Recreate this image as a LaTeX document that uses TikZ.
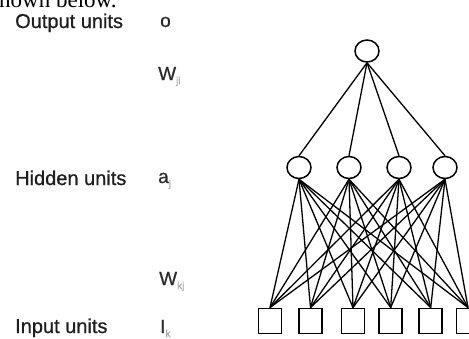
\documentclass[tikz,border=0pt]{standalone}
\usepackage{fontspec}
\setmainfont{Liberation Sans}
\newfontfamily\labelface[FakeBold=0.7]{Liberation Sans}
\newfontfamily\serifface{Liberation Serif}
\usetikzlibrary{shapes.geometric}
\definecolor{labelgray}{HTML}{1E1E1E}
\definecolor{symgray}{HTML}{2A2A2A}
\definecolor{subgray}{HTML}{A8A8A8}
\tikzset{
  unit/.style={ellipse, draw, line width=1.5pt, minimum width=24pt, minimum height=22pt, inner sep=0pt},
  inbox/.style={rectangle, draw, line width=1.5pt, minimum width=23pt, minimum height=25pt, inner sep=0pt},
  link/.style={line width=1.3pt},
  layertext/.style={anchor=base west, inner sep=0pt, font=\labelface\fontsize{20}{24}\selectfont, text=labelgray},
  sym/.style={anchor=base west, inner sep=0pt, font=\labelface\fontsize{19}{22}\selectfont, text=symgray},
}
\newcommand\lowsub[1]{{\color{subgray}\fontsize{10}{10}\selectfont\raisebox{-4pt}{#1}}}
\begin{document}
\begin{tikzpicture}[x=1pt, y=-1pt]
  \useasboundingbox (0,0) rectangle (469,338);
  \clip (0,0) rectangle (469,338);

  % running text above the figure
  \node[anchor=base west, inner sep=0pt, font=\serifface\fontsize{23}{23}\selectfont] (caption) at (-1,7) {hown below.};

  % layer names
  \node[layertext] (outname) at (15,28) {Output units};
  \node[layertext] (hidname) at (15,185) {Hidden units};
  \node[layertext] (inname)  at (15,333) {Input units};

  % symbols
  \node[sym] (osym) at (160,27) {o};
  \node[sym] (wji)  at (158,80) {W\lowsub{ji}};
  \node[sym] (asym) at (158,183) {a\lowsub{j}};
  \node[sym] (wkj)  at (159,285) {W\lowsub{kj}};
  \node[sym] (isym) at (160,333) {I\lowsub{k}};

  % output unit
  \node[unit] (out) at (367,51) {};

  % hidden units
  \node[unit] (h1) at (299,167.5) {};
  \node[unit] (h2) at (349,167.5) {};
  \node[unit] (h3) at (399,167.5) {};
  \node[unit] (h4) at (445,167.5) {};

  % input units
  \node[inbox] (i1) at (270,320.8) {};
  \node[inbox] (i2) at (310.5,320.8) {};
  \node[inbox] (i3) at (353,320.8) {};
  \node[inbox] (i4) at (390.7,320.8) {};
  \node[inbox] (i5) at (430.7,320.8) {};
  \node[inbox] (i6) at (468,320.8) {};

  % hidden -> output weights
  \foreach \h in {h1,h2,h3,h4}
    \draw[link] (out.south) -- (\h.north);

  % input -> hidden weights
  \foreach \h in {h1,h2,h3,h4}
    \foreach \i in {i1,i2,i3,i4,i5,i6}
      \draw[link] (\h.south) -- (\i.north);
\end{tikzpicture}
\end{document}
